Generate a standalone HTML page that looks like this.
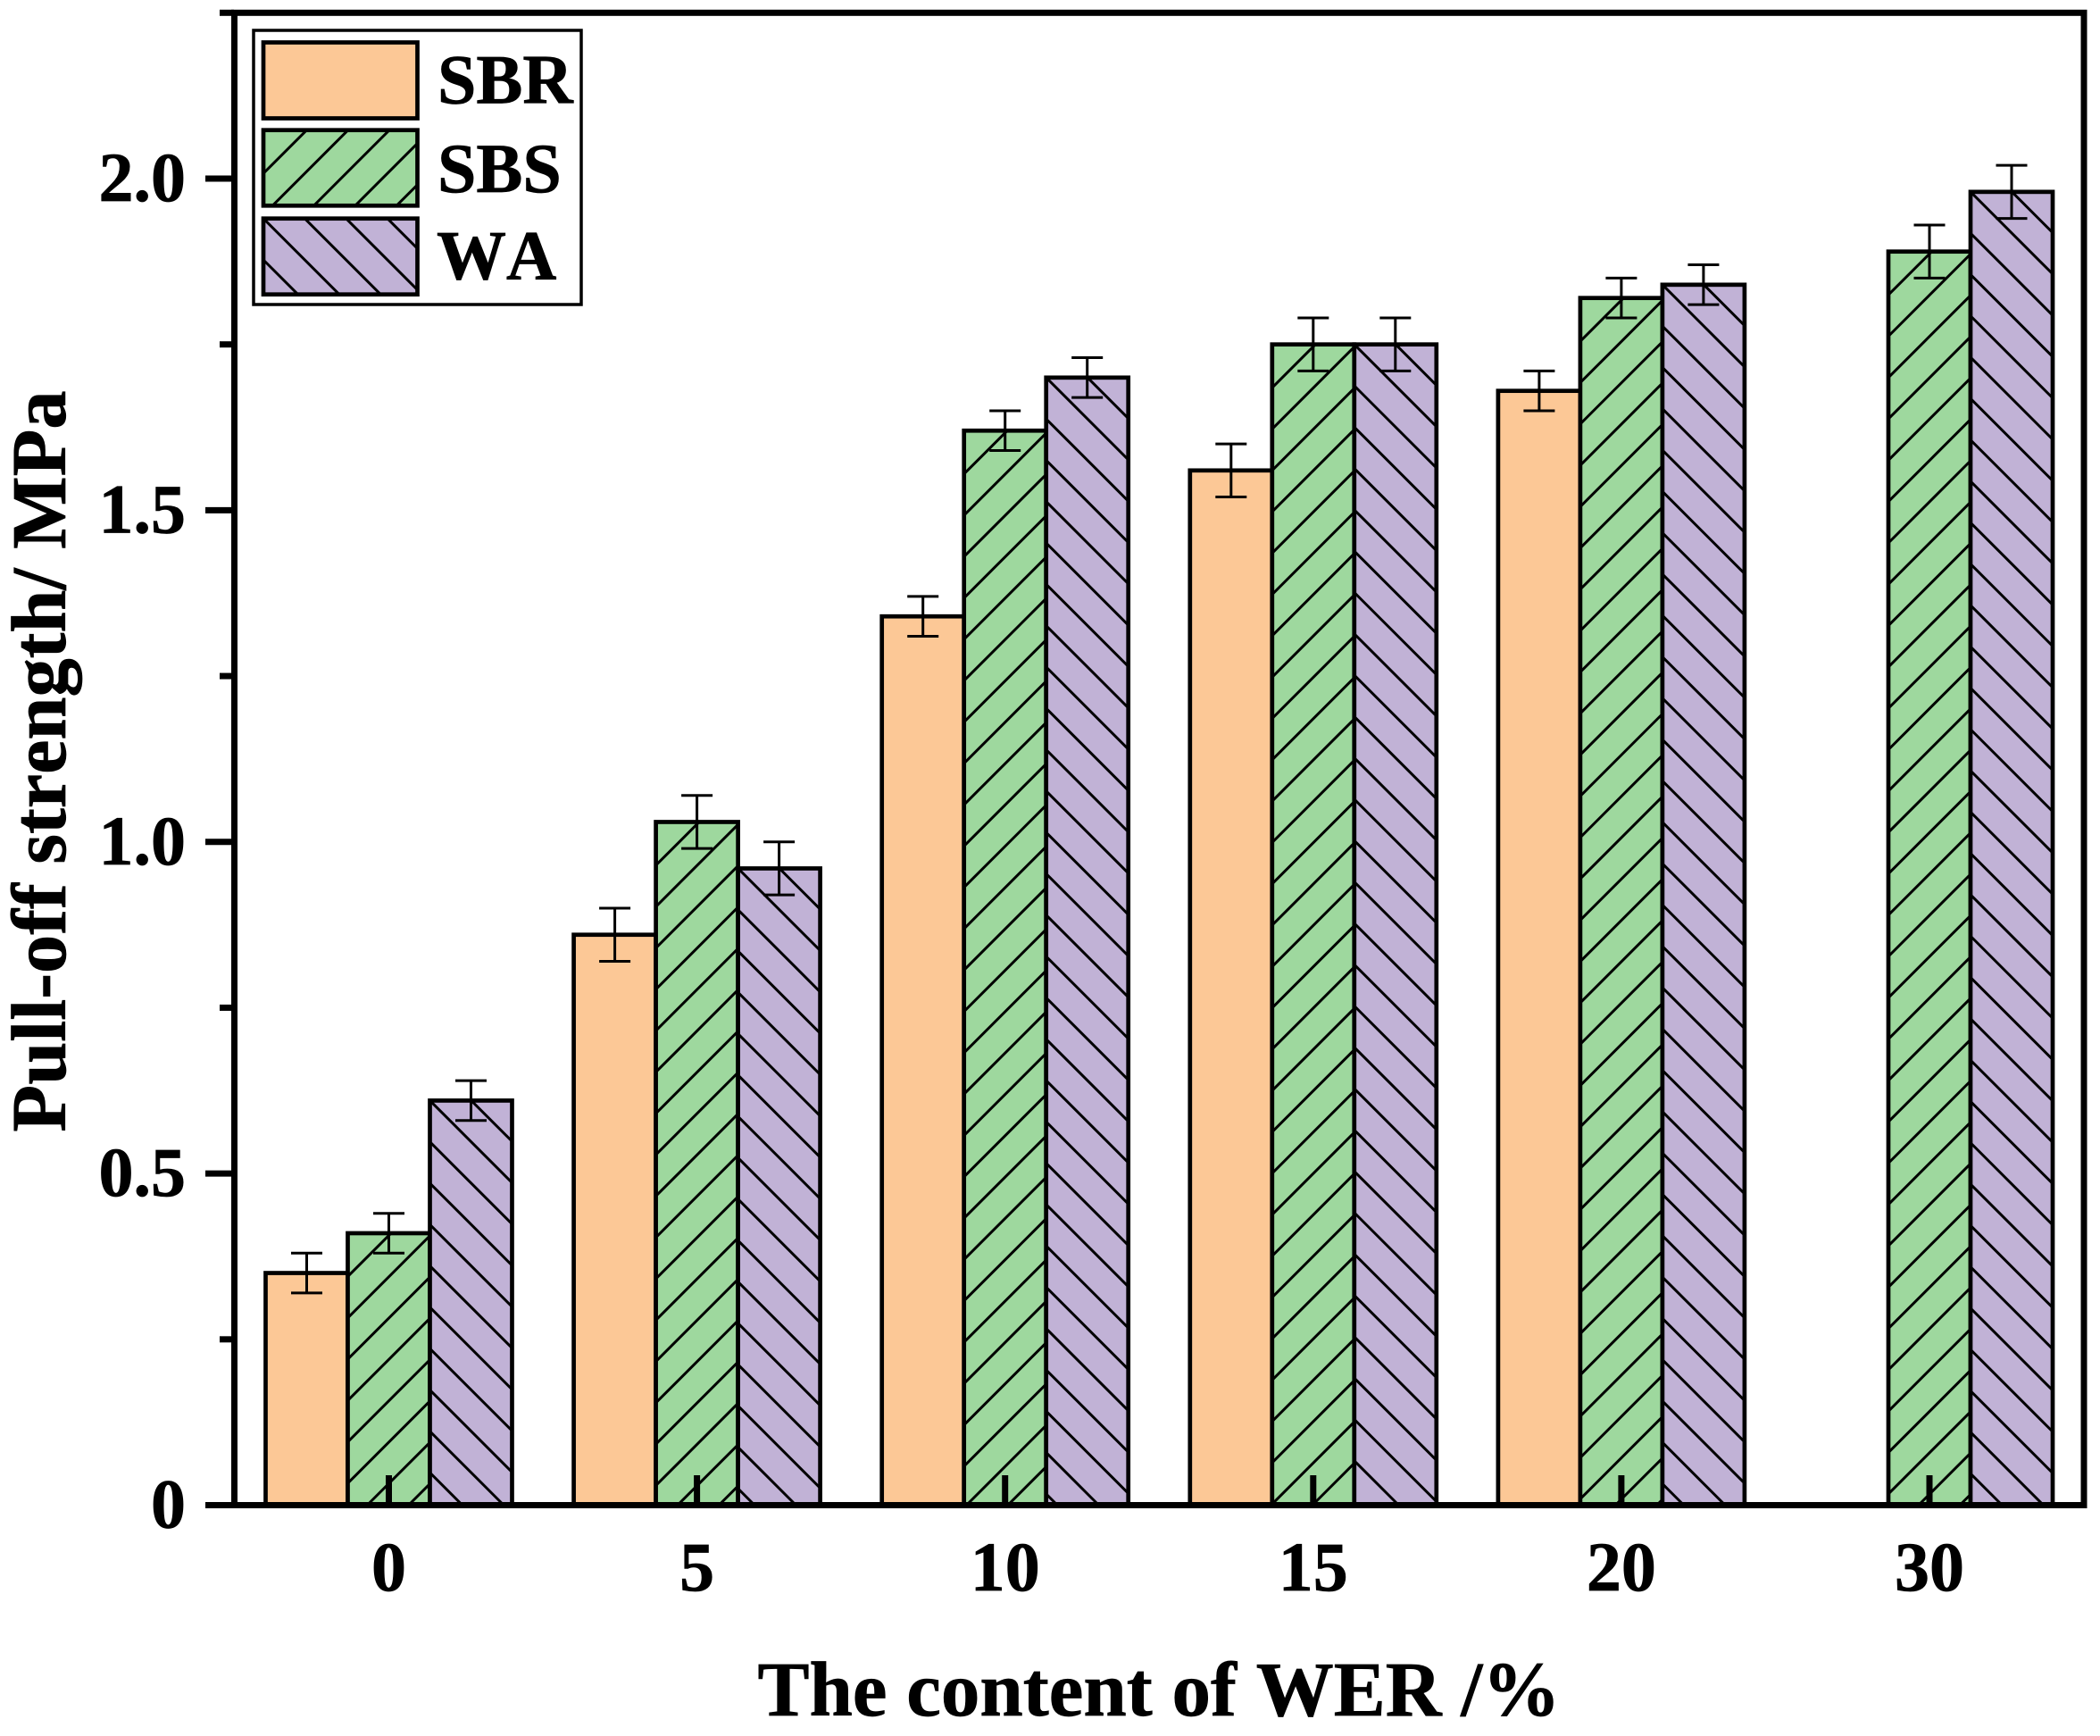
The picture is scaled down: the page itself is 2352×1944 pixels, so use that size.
<!DOCTYPE html>
<html lang="en">
<head>
<meta charset="utf-8">
<title>Pull-off strength vs WER content</title>
<style>
  html, body { margin: 0; padding: 0; background: #fff; }
  svg { display: block; }
  text { font-family: "Liberation Serif", serif; font-weight: bold; fill: #000; font-kerning: none; stroke: #000; stroke-width: 0.7px; }
</style>
</head>
<body>
<svg id="chart" xmlns="http://www.w3.org/2000/svg" width="2352" height="1944" viewBox="0 0 2352 1944">
  <rect x="0" y="0" width="2352" height="1944" fill="#ffffff"/>
  <g id="bars"></g>
  <g id="errors"></g>
  <g id="axes"></g>
  <g id="legend"></g>
  <text x="1298" y="1921" font-size="87" text-anchor="middle">The content of WER /%</text>
  <text transform="translate(73 852.5) rotate(-90)" font-size="86.4" text-anchor="middle">Pull-off strength/ MPa</text>
</svg>
<script>
const categories = ['0', '5', '10', '15', '20', '30'];
const seriesNames = ['SBR', 'SBS', 'WA'];
const sbrValues = [0.35, 0.86, 1.34, 1.56, 1.68, null];
const sbsValues = [0.41, 1.03, 1.62, 1.75, 1.82, 1.89];
const waValues = [0.61, 0.96, 1.70, 1.75, 1.84, 1.98];
const sbrErrors = [0.03, 0.04, 0.03, 0.04, 0.03, null];
const sbsErrors = [0.03, 0.04, 0.03, 0.04, 0.03, 0.04];
const waErrors = [0.03, 0.04, 0.03, 0.04, 0.03, 0.04];
const yMajorTicks = [0, 0.5, 1.0, 1.5, 2.0];
const yMajorLabels = ['0', '0.5', '1.0', '1.5', '2.0'];
const yMinorTicks = [0.25, 0.75, 1.25, 1.75, 2.25];

const NS = 'http://www.w3.org/2000/svg';
const BAR_W = 92;
const HATCH = 46.3;
const fills = ['#fcc896', '#9ed89e', '#c1b2d6'];
const seriesValues = [sbrValues, sbsValues, waValues];
const seriesErrors = [sbrErrors, sbsErrors, waErrors];

function yScale(v) { return 1685.5 - 742.75 * v; }
function xScale(i) { return 435.5 + 345.1 * i; }

function make(tag, attrs, parent) {
  const el = document.createElementNS(NS, tag);
  for (const k in attrs) el.setAttribute(k, attrs[k]);
  parent.appendChild(el);
  return el;
}

/* Hatch segments inside a rectangle, anchored to its top-left corner. */
function hatchPath(x0, y0, x1, y1, dir) {
  let d = '';
  const w = x1 - x0, h = y1 - y0;
  if (dir === 1) {
    /* "/" lines: (x - x0) + (y - y0) = c */
    for (let c = 2.2; c < w + h; c += HATCH) {
      const ax = Math.min(c, w), ay = c - ax;
      const by = Math.min(c, h), bx = c - by;
      d += 'M' + (x0 + ax).toFixed(2) + ' ' + (y0 + ay).toFixed(2) + 'L' + (x0 + bx).toFixed(2) + ' ' + (y0 + by).toFixed(2);
    }
  } else if (dir === -1) {
    /* "\" lines: (y - y0) - (x - x0) = c */
    for (let c = -Math.ceil(w / HATCH) * HATCH; c < h; c += HATCH) {
      const sx = Math.max(0, -c), sy = sx + c;
      const ex = Math.min(w, h - c), ey = ex + c;
      if (ex <= sx) continue;
      d += 'M' + (x0 + sx).toFixed(2) + ' ' + (y0 + sy).toFixed(2) + 'L' + (x0 + ex).toFixed(2) + ' ' + (y0 + ey).toFixed(2);
    }
  }
  return d;
}

const hatchDir = [0, 1, -1];
const barsG = document.getElementById('bars');
const errG = document.getElementById('errors');
const axesG = document.getElementById('axes');
const legendG = document.getElementById('legend');

/* Bars */
seriesValues.forEach(function (vals, s) {
  vals.forEach(function (v, i) {
    if (v === null) return;
    const cx = xScale(i) + (s - 1) * BAR_W;
    const left = cx - BAR_W / 2, right = cx + BAR_W / 2;
    const top = yScale(v), bottom = yScale(0);
    const r = make('rect', { x: left, y: top, width: BAR_W, height: bottom - top, fill: fills[s] }, barsG);
    
    
    if (hatchDir[s] !== 0) {
      const h = make('path', { d: hatchPath(left, top, right, bottom, hatchDir[s]), stroke: '#000', 'stroke-width': 3, fill: 'none' }, barsG);
      
      
    }
    const o = make('rect', { x: left, y: top, width: BAR_W, height: bottom - top, fill: 'none', stroke: '#000', 'stroke-width': 4.7 }, barsG);
    
    
  });
});

/* Error bars */
seriesValues.forEach(function (vals, s) {
  vals.forEach(function (v, i) {
    if (v === null) return;
    const e = seriesErrors[s][i];
    const cx = xScale(i) + (s - 1) * BAR_W;
    const yt = yScale(v + e), yb = yScale(v - e);
    const d = 'M' + (cx - 17.5) + ' ' + yt + 'H' + (cx + 17.5) + 'M' + cx + ' ' + yt + 'V' + yb + 'M' + (cx - 17.5) + ' ' + yb + 'H' + (cx + 17.5);
    const p = make('path', { d: d, stroke: '#000', 'stroke-width': 3, fill: 'none' }, errG);
    
    
  });
});

/* Axes frame */
const frame = make('rect', { x: 262.5, y: yScale(2.25), width: 2334 - 262.5, height: yScale(0) - yScale(2.25), fill: 'none', stroke: '#000', 'stroke-width': 7 }, axesG);



/* Y ticks */
yMajorTicks.forEach(function (v, i) {
  const t = make('line', { x1: 230, x2: 262, y1: yScale(v), y2: yScale(v), stroke: '#000', 'stroke-width': 7 }, axesG);
  
  
  const l = make('text', { x: 208, y: yScale(v) + 25, 'font-size': 78, 'text-anchor': 'end' }, axesG);
  l.textContent = yMajorLabels[i];
  
  
});
yMinorTicks.forEach(function (v) {
  const t = make('line', { x1: 246, x2: 262, y1: yScale(v), y2: yScale(v), stroke: '#000', 'stroke-width': 7 }, axesG);
  
  
});

/* X ticks */
categories.forEach(function (c, i) {
  const t = make('line', { x1: xScale(i), x2: xScale(i), y1: 1652, y2: 1685, stroke: '#000', 'stroke-width': 7 }, axesG);
  
  
  const l = make('text', { x: xScale(i), y: 1781, 'font-size': 78, 'text-anchor': 'middle' }, axesG);
  l.textContent = c;
  
  
});

/* Legend */
const legendBox = make('rect', { x: 284, y: 34, width: 367, height: 307, fill: '#fff', stroke: '#000', 'stroke-width': 3.5 }, legendG);


const swatchTops = [47.5, 145.7, 244.7];
const swatchBottoms = [132.5, 230.3, 329.7];
const legendBaselines = [115.7, 215, 312.7];
const legendTextX = [490, 490, 489];
seriesNames.forEach(function (n, s) {
  const x0 = 295, x1 = 467.5, y0 = swatchTops[s], y1 = swatchBottoms[s];
  const r = make('rect', { x: x0, y: y0, width: x1 - x0, height: y1 - y0, fill: fills[s] }, legendG);
  
  
  if (hatchDir[s] !== 0) {
    const h = make('path', { d: hatchPath(x0, y0, x1, y1, hatchDir[s]), stroke: '#000', 'stroke-width': 3, fill: 'none' }, legendG);
    
    
  }
  const o = make('rect', { x: x0, y: y0, width: x1 - x0, height: y1 - y0, fill: 'none', stroke: '#000', 'stroke-width': 4.7 }, legendG);
  
  
  const l = make('text', { x: legendTextX[s], y: legendBaselines[s], 'font-size': 78 }, legendG);
  l.textContent = n;
  
  
});
</script>
</body>
</html>
